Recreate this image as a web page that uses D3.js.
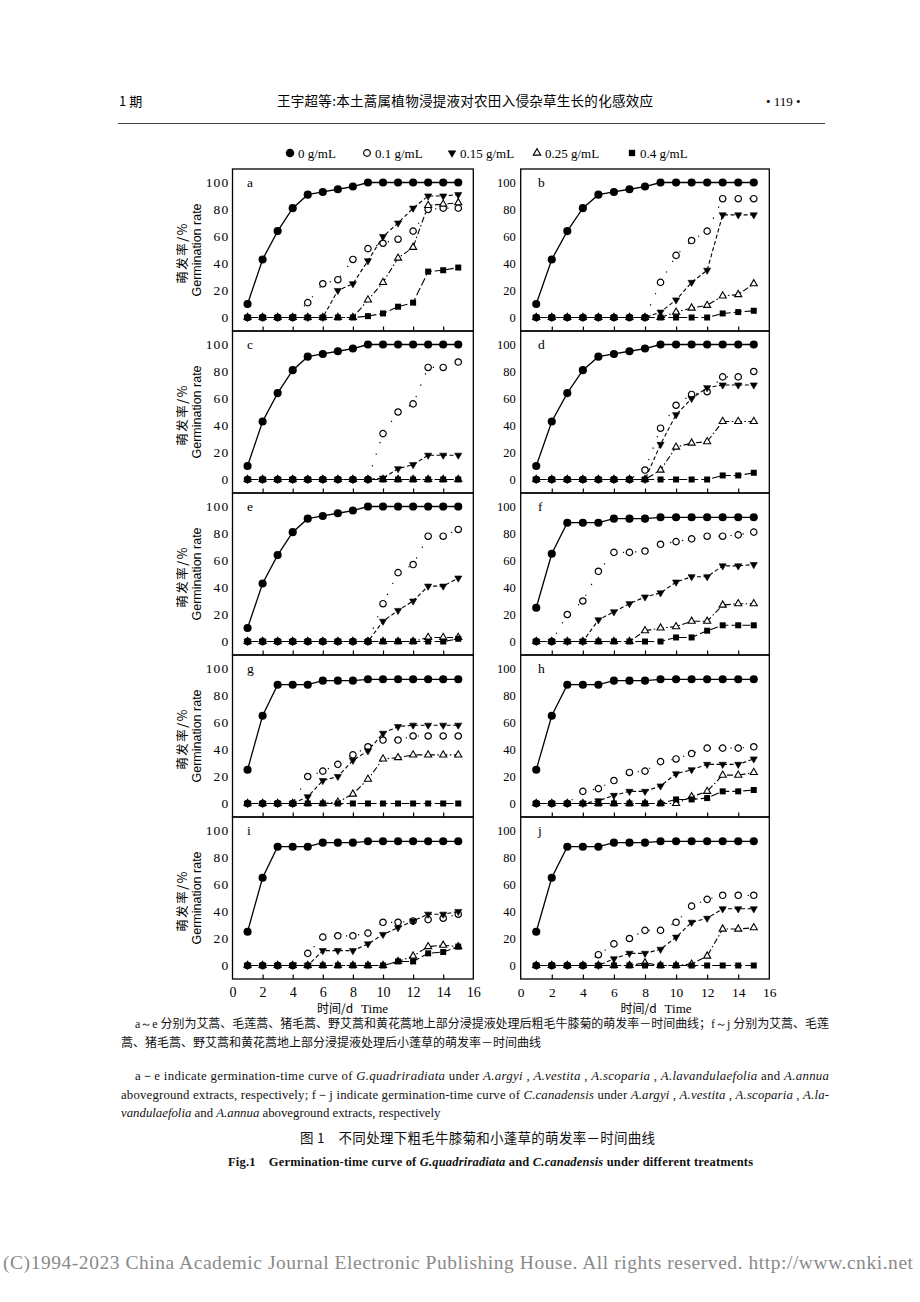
<!DOCTYPE html>
<html><head><meta charset="utf-8">
<script src="https://cdn.jsdelivr.net/npm/d3@7/dist/d3.min.js"></script>
<style>body{margin:0;background:#fff}svg{display:block}</style>
</head><body><svg id="c" width="920" height="1302"></svg>
<script>
// ---------- data ----------
const days = [1,2,3,4,5,6,7,8,9,10,11,12,13,14,15];
const concentrations = ["0 g/mL","0.1 g/mL","0.15 g/mL","0.25 g/mL","0.4 g/mL"];
const xTicks = [0,2,4,6,8,10,12,14,16];
const yTicks = [0,20,40,60,80,100];
const panelLetters = ["a","b","c","d","e","f","g","h","i","j"];

const ctrlG = [10,43,64,81,91,93,95,97,100,100,100,100,100,100,100];
const ctrlC = [25,65,88,88,88,91,91,91,92,92,92,92,92,92,92];

const a01  = [0,0,0,0,11,25,28,43,51,55,58,64,80,81,81];
const a015 = [0,0,0,0,0,0,20,25,42,60,70,81,90,90,91];
const a025 = [0,0,0,0,0,0,0,0,13,26,44,52,83,84,85];
const a04  = [0,0,0,0,0,0,0,0,1,3,8,11,34,35,37];

const b01  = [0,0,0,0,0,0,0,0,26,46,57,64,88,88,88];
const b015 = [0,0,0,0,0,0,0,0,4,13,26,35,76,76,76];
const b025 = [0,0,0,0,0,0,0,0,0,4,7,9,16,17,25];
const b04  = [0,0,0,0,0,0,0,0,0,0,0,0,3,4,5];

const c01  = [0,0,0,0,0,0,0,0,0,34,50,56,83,83,87];
const c015 = [0,0,0,0,0,0,0,0,0,1,8,11,18,18,18];
const c025 = [0,0,0,0,0,0,0,0,0,0,0,0,0,0,0];
const c04  = [0,0,0,0,0,0,0,0,0,0,0,0,0,0,0];

const d01  = [0,0,0,0,0,0,0,7,38,55,63,65,76,76,80];
const d015 = [0,0,0,0,0,0,0,0,26,48,60,68,70,70,70];
const d025 = [0,0,0,0,0,0,0,0,7,24,27,28,43,43,43];
const d04  = [0,0,0,0,0,0,0,0,0,0,0,0,3,3,5];

const e01  = [0,0,0,0,0,0,0,0,0,28,51,57,78,78,83];
const e015 = [0,0,0,0,0,0,0,0,0,15,23,30,41,41,47];
const e025 = [0,0,0,0,0,0,0,0,0,0,0,0,3,3,3];
const e04  = [0,0,0,0,0,0,0,0,0,0,0,0,0,0,2];

const f01  = [0,0,20,30,52,66,66,67,72,74,76,78,78,79,81];
const f015 = [0,0,0,0,16,22,28,33,36,44,48,48,56,56,57];
const f025 = [0,0,0,0,0,0,0,8,10,11,15,15,27,28,28];
const f04  = [0,0,0,0,0,0,0,0,0,3,3,8,12,12,12];

const g01  = [0,0,0,0,20,24,29,36,42,47,47,50,50,50,50];
const g015 = [0,0,0,0,5,17,20,32,39,52,57,58,58,58,58];
const g025 = [0,0,0,0,0,0,1,7,18,33,34,36,36,36,36];
const g04  = [0,0,0,0,0,0,0,0,0,0,0,0,0,0,0];

const h01  = [0,0,0,9,11,17,23,24,31,33,37,41,41,41,42];
const h015 = [0,0,0,0,2,6,9,9,13,22,25,29,29,29,33];
const h025 = [0,0,0,0,0,0,0,0,0,0,5,9,21,21,23];
const h04  = [0,0,0,0,0,0,0,0,0,3,3,4,9,9,10];

const i01  = [0,0,0,0,9,21,22,22,24,32,32,33,34,35,38];
const i015 = [0,0,0,0,0,11,11,11,16,23,28,33,38,38,40];
const i025 = [0,0,0,0,0,0,0,0,0,0,3,7,14,15,14];
const i04  = [0,0,0,0,0,0,0,0,0,0,3,3,9,10,14];

const j01  = [0,0,0,0,8,16,20,26,26,32,44,49,52,52,52];
const j015 = [0,0,0,0,0,5,9,9,12,21,32,35,42,42,42];
const j025 = [0,0,0,0,0,0,0,2,0,0,1,7,27,27,28];
const j04  = [0,0,0,0,0,0,0,0,0,0,0,0,0,0,0];

const panelSeries = [
  [ctrlG,a01,a015,a025,a04],[ctrlG,b01,b015,b025,b04],
  [ctrlG,c01,c015,c025,c04],[ctrlG,d01,d015,d025,d04],
  [ctrlG,e01,e015,e025,e04],[ctrlC,f01,f015,f025,f04],
  [ctrlC,g01,g015,g025,g04],[ctrlC,h01,h015,h025,h04],
  [ctrlC,i01,i015,i025,i04],[ctrlC,j01,j015,j025,j04]
];

// ---------- drawing ----------
const svg = d3.select("#c");
svg.append("rect").attr("width",920).attr("height",1302).attr("fill","#fff");

const SERIF = "'Liberation Serif','Times New Roman',serif";
const CJK = "'Noto Sans CJK SC','Noto Sans',sans-serif";

// header
svg.append("text").attr("x",119).attr("y",106).attr("font-family",CJK).attr("font-size",13).text("1 期");
svg.append("text").attr("x",277).attr("y",106).attr("font-family",CJK).attr("font-size",13.5)
  .attr("textLength",376).attr("lengthAdjust","spacing").text("王宇超等:本土蒿属植物浸提液对农田入侵杂草生长的化感效应");
svg.append("text").attr("x",766).attr("y",106).attr("font-family",SERIF).attr("font-size",13).text("• 119 •");
svg.append("line").attr("x1",118).attr("x2",825).attr("y1",123.5).attr("y2",123.5).attr("stroke","#444").attr("stroke-width",1);

// series styles
const triDown = {draw(ctx,size){const s=Math.sqrt(size/0.433);const h=s*0.866;ctx.moveTo(-s/2,-h/3);ctx.lineTo(s/2,-h/3);ctx.lineTo(0,2*h/3);ctx.closePath();}};
const triUp = {draw(ctx,size){const s=Math.sqrt(size/0.433);const h=s*0.866;ctx.moveTo(-s/2,h/3);ctx.lineTo(s/2,h/3);ctx.lineTo(0,-2*h/3);ctx.closePath();}};
const styles = [
  {type:d3.symbolCircle, size:52, fill:"#000", stroke:"#000", sw:0,  dash:null, lw:1.3},
  {type:d3.symbolCircle, size:32, fill:"#fff", stroke:"#000", sw:1.2, dash:"1.2,11", lw:1.2},
  {type:triDown,         size:22, fill:"#000", stroke:"#000", sw:0.6, dash:"4,2.5", lw:1.1},
  {type:triUp,           size:22, fill:"#fff", stroke:"#000", sw:1.1, dash:"6,2.5,1.5,2.5", lw:1.1},
  {type:d3.symbolSquare, size:36, fill:"#000", stroke:"#000", sw:0,  dash:"8,3", lw:1.1}
];
const markerOrder = [1,3,2,4,0];

// legend
const legendX = [290,367,452,537,632];
concentrations.forEach((c,k)=>{
  const st = styles[k];
  svg.append("path").attr("transform",`translate(${legendX[k]},153)`)
    .attr("d",d3.symbol().type(st.type).size(st.size*1.1)())
    .attr("fill",st.fill).attr("stroke",st.stroke).attr("stroke-width",st.sw);
  svg.append("text").attr("x",legendX[k]+8).attr("y",157.5).attr("font-family",SERIF).attr("font-size",13).text(c);
});

const cols = [{x0:232.5,x1:473.3},{x0:520.7,x1:769.3}];
const top0 = 169, ph = 162;

panelSeries.forEach((series,k)=>{
  const row = Math.floor(k/2), col = k%2;
  const c = cols[col];
  const top = top0 + row*ph, bottom = top + ph;
  const x = d3.scaleLinear().domain([0,16]).range([c.x0,c.x1]);
  const y = d3.scaleLinear().domain([-10,110]).range([bottom,top]);
  const g = svg.append("g");

  // box
  g.append("rect").attr("x",c.x0).attr("y",top).attr("width",c.x1-c.x0).attr("height",ph)
    .attr("fill","none").attr("stroke","#000").attr("stroke-width",1.3);

  // bottom inward ticks
  const ax = g.append("g").attr("transform",`translate(0,${bottom})`)
    .call(d3.axisBottom(x).tickValues(xTicks.slice(1,-1)).tickSize(-4.5).tickFormat(""));
  ax.select(".domain").remove();
  ax.selectAll("line").attr("stroke","#000").attr("stroke-width",1.2);

  // x labels on bottom row
  if(row===4){
    const axl = g.append("g").attr("transform",`translate(0,${bottom})`)
      .call(d3.axisBottom(x).tickValues(xTicks).tickSize(0).tickPadding(8));
    axl.select(".domain").remove();
    axl.selectAll(".tick").attr("opacity",null);
    axl.attr("fill",null);
    axl.selectAll("text").attr("font-family",SERIF).attr("font-size",col===0?14:13.5).attr("fill","#000");
    g.append("text").attr("x",col===0?352.5:656).attr("y",1012.5).attr("text-anchor","middle")
      .attr("font-family",SERIF).attr("font-size",13)
      .call(t=>{t.append("tspan").attr("font-family",CJK).attr("font-size",12).text("时间/d");
                t.append("tspan").attr("dx",8).text("Time");});
  }

  // y axis labels
  const ay = g.append("g").attr("transform",`translate(${c.x0},0)`)
    .call(d3.axisLeft(y).tickValues(yTicks).tickSize(0).tickPadding(col===0?3:5));
  ay.select(".domain").remove();
  ay.selectAll(".tick").attr("opacity",null);
  ay.attr("fill",null);
  ay.selectAll("text").attr("font-family",SERIF).attr("font-size",col===0?13.5:12.5).attr("fill","#000")
    .attr("letter-spacing",col===0?1.2:0);

  // y titles on left column
  if(col===0){
    const cy = (top+bottom)/2;
    g.append("text").attr("transform",`translate(187,${cy+3}) rotate(-90)`).attr("text-anchor","middle")
      .attr("font-family",CJK).attr("font-size",12.5).attr("letter-spacing",1.5).text("萌发率/%");
    g.append("text").attr("transform",`translate(201,${cy}) rotate(-90)`).attr("text-anchor","middle")
      .attr("font-family","'Liberation Sans',Arial,sans-serif").attr("font-size",12.5).text("Germination rate");
  }

  // panel letter
  g.append("text").attr("x",col===0?247:538).attr("y",top+18).attr("font-family",SERIF).attr("font-size",13.5)
    .text(panelLetters[k]);

  // lines
  series.forEach((vals,s)=>{
    const st = styles[s];
    const line = d3.line().x((d,i)=>x(days[i])).y(d=>y(d));
    g.append("path").attr("d",line(vals)).attr("fill","none").attr("stroke","#000")
      .attr("stroke-width",st.lw).attr("stroke-dasharray",st.dash);
  });
  // markers
  markerOrder.forEach(s=>{
    const st = styles[s];
    g.append("g").selectAll("path").data(series[s]).join("path")
      .attr("transform",(d,i)=>`translate(${x(days[i])},${y(d)})`)
      .attr("d",d3.symbol().type(st.type).size(st.size)())
      .attr("fill",st.fill).attr("stroke",st.stroke).attr("stroke-width",st.sw);
  });
});

// caption
const cap = svg.append("g").attr("fill","#111");
cap.append("text").attr("x",135).attr("y",1028).attr("font-family",CJK).attr("font-size",12)
  .attr("textLength",694).attr("lengthAdjust","spacing")
  .call(t=>{t.append("tspan").attr("font-family",SERIF).text("a～e ");
    t.append("tspan").text("分别为艾蒿、毛莲蒿、猪毛蒿、野艾蒿和黄花蒿地上部分浸提液处理后粗毛牛膝菊的萌发率－时间曲线；");
    t.append("tspan").attr("font-family",SERIF).text("f～j ");
    t.append("tspan").text("分别为艾蒿、毛莲");});
cap.append("text").attr("x",121).attr("y",1047).attr("font-family",CJK).attr("font-size",12)
  .text("蒿、猪毛蒿、野艾蒿和黄花蒿地上部分浸提液处理后小蓬草的萌发率－时间曲线");

function rich(t, parts){
  parts.forEach(p=>{const s=t.append("tspan").text(p[0]); if(p[1]) s.attr("font-style","italic");});
}
cap.append("text").attr("x",135).attr("y",1080).attr("font-family",SERIF).attr("font-size",12.8)
  .attr("textLength",694).attr("lengthAdjust","spacing")
  .call(t=>rich(t,[["a－e indicate germination-time curve of "],["G.quadriradiata",1],[" under "],["A.argyi",1],[" , "],["A.vestita",1],[" , "],["A.scoparia",1],[" , "],["A.lavandulaefolia",1],[" and "],["A.annua",1]]));
cap.append("text").attr("x",121).attr("y",1099).attr("font-family",SERIF).attr("font-size",12.8)
  .attr("textLength",708).attr("lengthAdjust","spacing")
  .call(t=>rich(t,[["aboveground extracts, respectively; f－j indicate germination-time curve of "],["C.canadensis",1],[" under "],["A.argyi",1],[" , "],["A.vestita",1],[" , "],["A.scoparia",1],[" , "],["A.la-",1]]));
cap.append("text").attr("x",121).attr("y",1117).attr("font-family",SERIF).attr("font-size",12.8)
  .call(t=>rich(t,[["vandulaefolia",1],[" and "],["A.annua",1],[" aboveground extracts, respectively"]]));

cap.append("text").attr("x",300).attr("y",1143).attr("font-family",CJK).attr("font-size",13.5)
  .attr("textLength",355).attr("lengthAdjust","spacing")
  .text("图 1　不同处理下粗毛牛膝菊和小蓬草的萌发率－时间曲线");
cap.append("text").attr("x",228).attr("y",1166).attr("font-family",SERIF)
  .attr("font-size",12.5).attr("font-weight","bold").attr("textLength",525).attr("lengthAdjust","spacing")
  .call(t=>rich(t,[["Fig.1　Germination-time curve of "],["G.quadriradiata",1],[" and "],["C.canadensis",1],[" under different treatments"]]));

svg.append("text").attr("x",3).attr("y",1269).attr("font-family",SERIF).attr("font-size",19.5).attr("fill","#8a8a8a")
  .attr("textLength",910).attr("lengthAdjust","spacing")
  .text("(C)1994-2023 China Academic Journal Electronic Publishing House. All rights reserved.    http://www.cnki.net");
</script></body></html>
